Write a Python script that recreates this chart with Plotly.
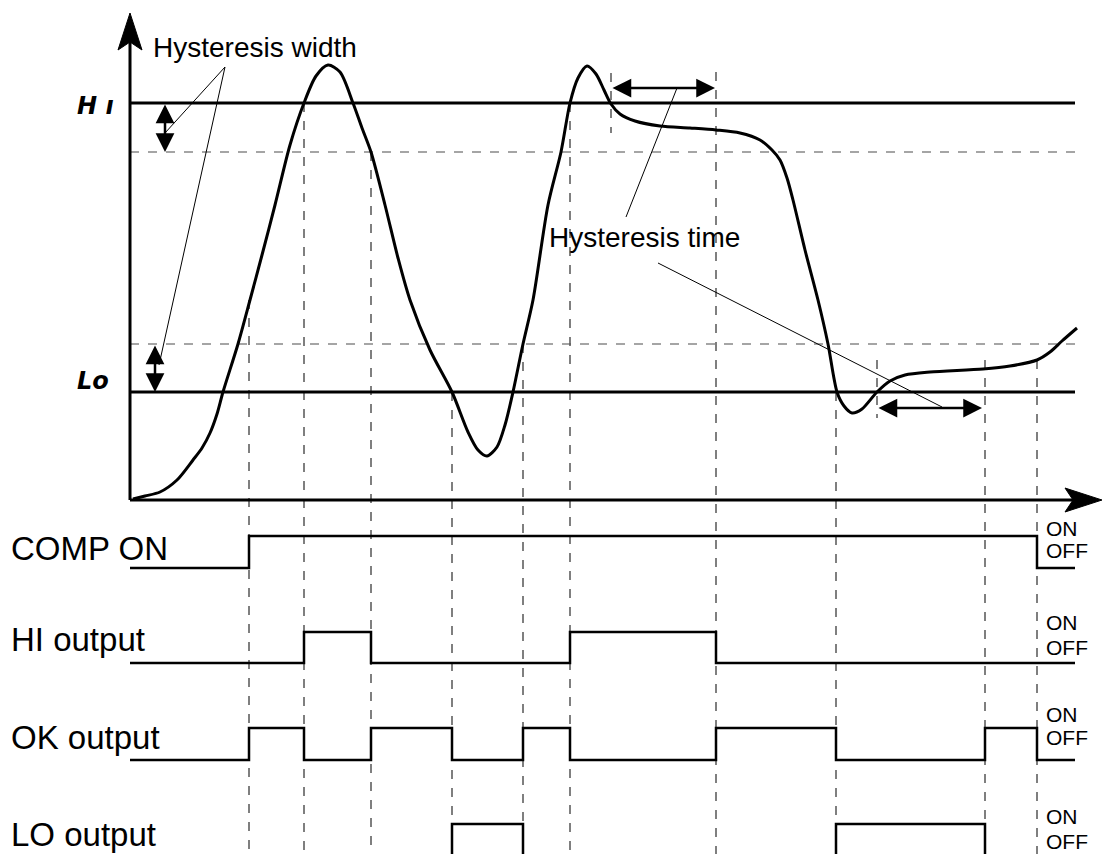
import plotly.graph_objects as go

# ---------------- data (time axis / signal axis in drawing units) ----------------
# analog process value curve
curve_t = [133, 145, 160, 177, 193, 202, 210, 217, 223, 238, 250, 262, 275, 290, 304, 316, 328,
           340, 353, 362, 371, 385, 398, 410, 430, 452, 468, 478, 487, 497, 505, 513,
           523, 533, 548, 561, 570, 578, 587, 596, 604, 611, 620, 635, 660, 690, 716,
           740, 760, 772, 780, 787, 793, 805, 818, 828, 837, 844, 852, 862, 877, 890,
           905, 930, 983, 1010, 1037, 1050, 1062, 1077]
curve_v = [499, 496, 492, 480, 460, 448, 433, 414, 392, 344, 300, 255, 205, 145, 103, 76, 65,
           72, 103, 128, 152, 205, 258, 300, 350, 392, 432, 450, 456, 447, 425, 392,
           344, 300, 205, 152, 103, 78, 66, 74, 90, 104, 114, 121, 126, 128, 130,
           133, 140, 150, 160, 178, 200, 250, 300, 344, 392, 406, 413, 409, 392, 381,
           375, 372, 369, 366, 360, 352, 341, 328]

# threshold levels
HI_LEVEL = 103
HI_HYST = 152
LO_LEVEL = 392
LO_HYST = 344
T_START = 130
T_END = 1075

# event times (vertical dashed markers): (time, top of marker)
event_t = [249, 304, 371, 452, 523, 570, 716, 836, 985, 1037]
event_top = [300, 103, 152, 392, 344, 103, 72, 392, 360, 360]
short_event_t = [611, 877]
short_event_top = [73, 360]
short_event_bot = [133, 418]

# digital outputs (step signals)
signal_names = ["COMP ON", "HI output", "OK output", "LO output"]
comp_t = [130, 249, 1037, 1075]
comp_s = [0, 1, 0, 0]
hi_t = [130, 304, 371, 570, 716, 1075]
hi_s = [0, 1, 0, 1, 0, 0]
ok_t = [130, 249, 304, 371, 452, 523, 570, 716, 836, 985, 1037, 1075]
ok_s = [0, 1, 0, 1, 0, 1, 0, 1, 0, 1, 0, 0]
lo_t = [130, 452, 523, 836, 985, 1075]
lo_s = [0, 1, 0, 1, 0, 0]
signal_off = [568, 663, 760, 856]
signal_on = [536, 632, 728, 824]
label_y = [548, 639, 737, 834]
on_y = [528, 622, 714, 816]
off_y = [550, 647, 737, 841]

FONT = "Liberation Sans, Arial, sans-serif"

fig = go.Figure()

# hysteresis dashed levels
for lvl in [HI_HYST, LO_HYST]:
    fig.add_trace(go.Scatter(x=[T_START, T_END], y=[lvl, lvl], mode="lines",
                             line=dict(color="#888888", width=1.5, dash="dash"),
                             hoverinfo="skip", showlegend=False))

# vertical event markers
for t, top in zip(event_t, event_top):
    fig.add_trace(go.Scatter(x=[t, t], y=[top, 860], mode="lines",
                             line=dict(color="#555555", width=1.5, dash="dash"),
                             hoverinfo="skip", showlegend=False))
for t, top, bot in zip(short_event_t, short_event_top, short_event_bot):
    fig.add_trace(go.Scatter(x=[t, t], y=[top, bot], mode="lines",
                             line=dict(color="#555555", width=1.5, dash="dash"),
                             hoverinfo="skip", showlegend=False))

# threshold lines
for lvl in [HI_LEVEL, LO_LEVEL]:
    fig.add_trace(go.Scatter(x=[T_START, T_END], y=[lvl, lvl], mode="lines",
                             line=dict(color="black", width=3),
                             hoverinfo="skip", showlegend=False))

# axes
fig.add_trace(go.Scatter(x=[T_START, T_START], y=[500, 30], mode="lines",
                         line=dict(color="black", width=3), hoverinfo="skip", showlegend=False))
fig.add_trace(go.Scatter(x=[T_START, 1090], y=[500, 500], mode="lines",
                         line=dict(color="black", width=3), hoverinfo="skip", showlegend=False))
fig.add_shape(type="path", path="M 130 13 L 118 50 L 130 42 L 142 50 Z",
              xref="x", yref="y", fillcolor="black", line=dict(color="black", width=1))
fig.add_shape(type="path", path="M 1102 500 L 1065 488 L 1073 500 L 1065 512 Z",
              xref="x", yref="y", fillcolor="black", line=dict(color="black", width=1))

# process value curve
fig.add_trace(go.Scatter(x=curve_t, y=curve_v, mode="lines",
                         line=dict(color="black", width=3, shape="spline", smoothing=0.8),
                         hoverinfo="skip", showlegend=False))

# digital signals
for ts, ss, off, on in zip([comp_t, hi_t, ok_t, lo_t], [comp_s, hi_s, ok_s, lo_s],
                           signal_off, signal_on):
    ys = [on if s else off for s in ss]
    fig.add_trace(go.Scatter(x=ts, y=ys, mode="lines",
                             line=dict(color="black", width=2.5, shape="hv"),
                             hoverinfo="skip", showlegend=False))

annotations = []
# signal labels
for name, ly in zip(signal_names, label_y):
    annotations.append(dict(x=9, y=ly, text=name, showarrow=False, xanchor="left",
                            yanchor="middle", font=dict(family=FONT, size=33, color="black")))
for oy, fy in zip(on_y, off_y):
    annotations.append(dict(x=1044, y=oy, text="ON", showarrow=False, xanchor="left",
                            yanchor="middle", font=dict(family=FONT, size=21, color="black")))
    annotations.append(dict(x=1044, y=fy, text="OFF", showarrow=False, xanchor="left",
                            yanchor="middle", font=dict(family=FONT, size=21, color="black")))

# HI / Lo labels
annotations.append(dict(x=75, y=106, text="<i><b>H ı</b></i>", showarrow=False, xanchor="left",
                        yanchor="middle", font=dict(family="DejaVu Sans", size=24, color="black")))
annotations.append(dict(x=75, y=381, text="<i><b>Lo</b></i>", showarrow=False, xanchor="left",
                        yanchor="middle", font=dict(family="DejaVu Sans", size=24, color="black")))

# text annotations
annotations.append(dict(x=255, y=47, text="Hysteresis width", showarrow=False,
                        font=dict(family=FONT, size=28, color="black")))
annotations.append(dict(x=644, y=237, text="Hysteresis time", showarrow=False,
                        font=dict(family=FONT, size=28, color="black")))

# leader lines
leaders = [((225, 67), (165, 133)), ((225, 67), (159, 365)),
           ((677, 88), (626, 217)), ((658, 263), (942, 407))]
for (x0, y0), (x1, y1) in leaders:
    fig.add_shape(type="line", x0=x0, y0=y0, x1=x1, y1=y1, xref="x", yref="y",
                  line=dict(color="black", width=1))

# double arrows
double_arrows = [((165, 103), (165, 152)), ((155, 344), (155, 392)),
                 ((611, 88), (715, 88)), ((877, 408), (982, 408))]
for (x0, y0), (x1, y1) in double_arrows:
    annotations.append(dict(x=x1, y=y1, ax=x0, ay=y0, axref="x", ayref="y", xref="x", yref="y",
                            text="", showarrow=True, arrowhead=2, arrowside="end+start",
                            arrowwidth=2.5, arrowsize=1.5, arrowcolor="black",
                            standoff=0, startstandoff=0))

# page body has an 8px margin: size the figure and ranges so that units map to page pixels
fig.update_layout(
    width=1102, height=846,
    margin=dict(l=0, r=0, t=0, b=0),
    plot_bgcolor="white", paper_bgcolor="white",
    xaxis=dict(range=[8, 1110], visible=False, fixedrange=True),
    yaxis=dict(range=[854, 8], visible=False, fixedrange=True),
    annotations=annotations,
    showlegend=False,
)

fig.write_html("out.html")
